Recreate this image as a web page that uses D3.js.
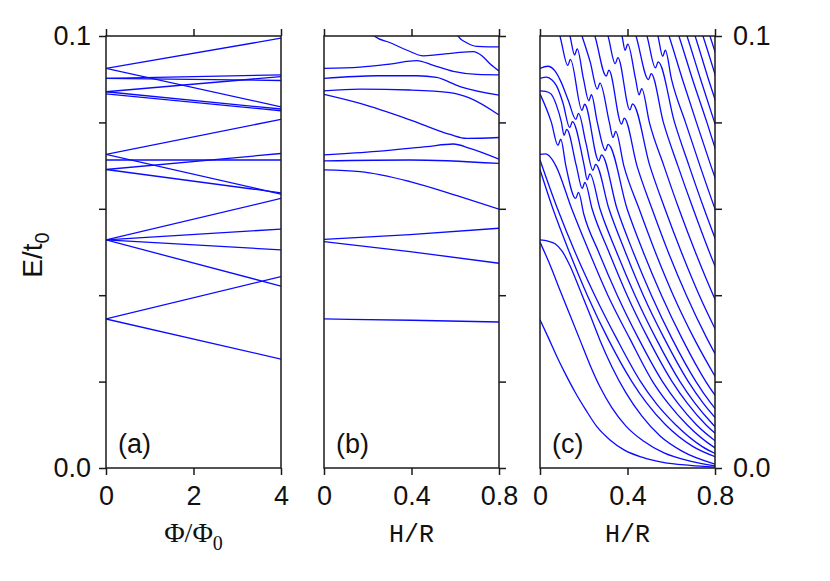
<!DOCTYPE html>
<html>
<head>
<meta charset="utf-8">
<script src="https://cdn.jsdelivr.net/npm/d3@7"></script>
<style>
  body { margin: 0; background: #fff; }
  svg { display: block; }
</style>
</head>
<body>
<svg id="chart" width="830" height="581"></svg>
<script>
// ---- data ----
const eDomain = [0, 0.1]
const fluxDomain = [0, 4]
const hDomain = [0, 0.8]
const eTicks = [0, 0.02, 0.04, 0.06, 0.08, 0.1]
const fluxTicks = [0, 2, 4]
const hTicks = [0, 0.4, 0.8]

// (a) straight levels: E/t0 at Phi/Phi0 = 0 and at Phi/Phi0 = 4
const linesA = [
  [0.0925, 0.0995], [0.0925, 0.0836],
  [0.0902, 0.0910], [0.0902, 0.0897],
  [0.0871, 0.0906], [0.0871, 0.0831],
  [0.0866, 0.0827],
  [0.0726, 0.0807], [0.0726, 0.0634],
  [0.0713, 0.0713],
  [0.0691, 0.0728], [0.0691, 0.0637],
  [0.0528, 0.0624], [0.0528, 0.0553], [0.0528, 0.0505], [0.0528, 0.0421],
  [0.0345, 0.0443], [0.0345, 0.0252]
]

// (b) levels against H/R, [H/R, E/t0]
const curvesB = [
  [[0.21,0.1015],[0.233,0.0999],[0.3,0.0985],[0.38,0.0967],[0.454,0.0954],[0.52,0.0957],[0.6,0.0961],[0.683,0.0964],[0.72,0.0955],[0.76,0.0935],[0.8,0.0919]],
  [[0.6,0.1012],[0.614,0.0999],[0.65,0.0985],[0.698,0.0976],[0.75,0.0975],[0.8,0.0975]],
  [[0,0.0925],[0.165,0.0928],[0.3,0.0935],[0.424,0.0943],[0.5,0.0932],[0.591,0.0918],[0.7,0.0911],[0.8,0.091]],
  [[0,0.0902],[0.242,0.0908],[0.424,0.0908],[0.515,0.0904],[0.622,0.0883],[0.8,0.0863]],
  [[0,0.0873],[0.165,0.0877],[0.393,0.0875],[0.576,0.0869],[0.667,0.0856],[0.8,0.0817]],
  [[0,0.0865],[0.165,0.0844],[0.393,0.0806],[0.576,0.0772],[0.652,0.0763],[0.8,0.0765]],
  [[0,0.0725],[0.242,0.0733],[0.469,0.0744],[0.591,0.075],[0.667,0.074],[0.8,0.0715]],
  [[0,0.0711],[0.393,0.0713],[0.8,0.0705]],
  [[0,0.069],[0.165,0.0686],[0.393,0.0663],[0.622,0.0628],[0.8,0.0599]],
  [[0,0.0529],[0.393,0.054],[0.8,0.0555]],
  [[0,0.0524],[0.393,0.0501],[0.8,0.0474]],
  [[0,0.0345],[0.4,0.0342],[0.8,0.0338]]
]

// (c) levels against H/R, [H/R, E/t0]
const curvesC = [
  [[0,0.0343],[0.037,0.0303],[0.078,0.0257],[0.119,0.0215],[0.16,0.0176],[0.21,0.0134],[0.261,0.0095],[0.32,0.0065],[0.384,0.0042],[0.466,0.0025],[0.562,0.0013],[0.686,0.0006],[0.8,0.0002]],
  [[0,0.0523],[0.046,0.047],[0.091,0.0412],[0.137,0.0354],[0.183,0.0296],[0.229,0.0238],[0.274,0.0188],[0.329,0.0139],[0.393,0.0097],[0.471,0.0063],[0.567,0.0035],[0.686,0.0016],[0.8,0.0005]],
  [[0,0.0528],[0.037,0.0525],[0.069,0.0519],[0.101,0.0502],[0.137,0.0468],[0.183,0.0412],[0.229,0.0354],[0.274,0.0296],[0.329,0.0234],[0.393,0.0174],[0.466,0.012],[0.549,0.0074],[0.649,0.0039],[0.8,0.0009]],
  [[0,0.0691],[0.059,0.06],[0.134,0.05],[0.216,0.04],[0.31,0.03],[0.42,0.02],[0.488,0.015],[0.574,0.01],[0.698,0.005],[0.807,0.0025]],
  [[0,0.0713],[0.08,0.06],[0.16,0.05],[0.25,0.04],[0.35,0.03],[0.46,0.02],[0.53,0.015],[0.62,0.01],[0.74,0.005],[0.84,0.0025]],
  [[0,0.0726],[0.025,0.0727],[0.05,0.0718],[0.072,0.07],[0.145,0.06],[0.225,0.05],[0.31,0.04],[0.41,0.03],[0.515,0.02],[0.585,0.015],[0.672,0.01],[0.79,0.005],[0.89,0.0025]],
  [[0,0.0866],[0.052,0.08],[0.082,0.0747],[0.095,0.0761],[0.118,0.07],[0.163,0.0624],[0.176,0.0638],[0.2,0.0588],[0.268,0.05],[0.353,0.04],[0.45,0.03],[0.56,0.02],[0.63,0.015],[0.715,0.01],[0.835,0.005]],
  [[0,0.0873],[0.025,0.0872],[0.05,0.0866],[0.075,0.084],[0.098,0.08],[0.11,0.077],[0.122,0.0784],[0.166,0.07],[0.193,0.0647],[0.205,0.0661],[0.238,0.06],[0.315,0.05],[0.398,0.04],[0.494,0.03],[0.604,0.02],[0.673,0.015],[0.758,0.01],[0.88,0.005]],
  [[0,0.0902],[0.03,0.0905],[0.055,0.0898],[0.075,0.0885],[0.105,0.0845],[0.136,0.0788],[0.148,0.0802],[0.202,0.07],[0.216,0.0667],[0.228,0.0681],[0.274,0.06],[0.35,0.05],[0.434,0.04],[0.53,0.03],[0.64,0.02],[0.708,0.015],[0.792,0.01],[0.9,0.005]],
  [[0,0.0925],[0.035,0.093],[0.07,0.0918],[0.095,0.0895],[0.13,0.085],[0.164,0.0807],[0.176,0.0821],[0.21,0.0752],[0.242,0.0689],[0.254,0.0703],[0.315,0.06],[0.39,0.05],[0.472,0.04],[0.568,0.03],[0.678,0.02],[0.746,0.015],[0.83,0.01]],
  [[0.078,0.102],[0.091,0.1],[0.127,0.0932],[0.139,0.0946],[0.192,0.0828],[0.204,0.0842],[0.269,0.0711],[0.281,0.0725],[0.352,0.06],[0.426,0.05],[0.509,0.04],[0.603,0.03],[0.713,0.02],[0.781,0.015],[0.867,0.01]],
  [[0.124,0.102],[0.137,0.1],[0.158,0.0956],[0.17,0.097],[0.199,0.09],[0.223,0.085],[0.235,0.0864],[0.262,0.08],[0.299,0.0735],[0.311,0.0749],[0.398,0.06],[0.472,0.05],[0.555,0.04],[0.649,0.03],[0.758,0.02],[0.826,0.015]],
  [[0.179,0.102],[0.192,0.1],[0.23,0.0939],[0.262,0.0877],[0.274,0.0891],[0.317,0.08],[0.334,0.0765],[0.346,0.0779],[0.383,0.07],[0.453,0.06],[0.527,0.05],[0.609,0.04],[0.704,0.03],[0.814,0.02]],
  [[0.238,0.102],[0.251,0.1],[0.303,0.0907],[0.315,0.0921],[0.373,0.0796],[0.385,0.081],[0.443,0.07],[0.512,0.06],[0.586,0.05],[0.669,0.04],[0.763,0.03],[0.873,0.02]],
  [[0.298,0.102],[0.311,0.1],[0.344,0.0936],[0.356,0.095],[0.411,0.0829],[0.423,0.0843],[0.502,0.07],[0.571,0.06],[0.646,0.05],[0.728,0.04],[0.822,0.03]],
  [[0.362,0.102],[0.375,0.1],[0.389,0.0967],[0.401,0.0981],[0.437,0.09],[0.453,0.0864],[0.465,0.0878],[0.5,0.08],[0.566,0.07],[0.635,0.06],[0.71,0.05],[0.792,0.04],[0.886,0.03]],
  [[0.426,0.102],[0.439,0.1],[0.496,0.0899],[0.508,0.0913],[0.564,0.08],[0.63,0.07],[0.7,0.06],[0.774,0.05],[0.856,0.04]],
  [[0.476,0.102],[0.489,0.1],[0.528,0.0926],[0.54,0.094],[0.615,0.08],[0.681,0.07],[0.75,0.06],[0.824,0.05]],
  [[0.526,0.102],[0.539,0.1],[0.561,0.0953],[0.573,0.0967],[0.601,0.09],[0.665,0.08],[0.731,0.07],[0.8,0.06],[0.875,0.05]],
  [[0.577,0.102],[0.59,0.1],[0.651,0.09],[0.715,0.08],[0.781,0.07],[0.851,0.06]],
  [[0.622,0.102],[0.635,0.1],[0.697,0.09],[0.763,0.08],[0.826,0.07]],
  [[0.659,0.102],[0.672,0.1],[0.734,0.09],[0.798,0.08],[0.863,0.07]],
  [[0.696,0.102],[0.709,0.1],[0.77,0.09],[0.834,0.08]],
  [[0.732,0.102],[0.745,0.1],[0.807,0.09]],
  [[0.764,0.102],[0.777,0.1],[0.839,0.09]]
]

// ---- drawing ----
const svg = d3.select("#chart")
const yTop = 36, yBottom = 468
const ink = "#1a1a1a"
const sans = "'Liberation Sans', Arial, Helvetica, sans-serif"
const blue = "#0a0aff"

const y = d3.scaleLinear().domain(eDomain).range([yBottom, yTop])

const defs = svg.append("defs")

function makePanel(id, x0, x1, domain) {
  const x = d3.scaleLinear().domain(domain).range([x0, x1])
  defs.append("clipPath").attr("id", id)
    .append("rect").attr("x", x0).attr("y", yTop).attr("width", x1 - x0).attr("height", yBottom - yTop)
  const g = svg.append("g")
  const plot = g.append("g").attr("clip-path", `url(#${id})`)
  return { x, g, plot, x0, x1 }
}

function styleAxis(sel) {
  sel.attr("color", ink).attr("font-family", sans).attr("font-size", 27)
  sel.select(".domain").remove()
  sel.selectAll(".tick line").attr("stroke-width", 1.5)
  sel.selectAll(".tick text").attr("fill", "#111")
}

const yFmt = d => d === 0 ? "0.0" : (Math.abs(d - 0.1) < 1e-9 ? "0.1" : "")

function axes(p, xTicks, xFmt, ySide, yLabels) {
  p.g.append("g").attr("transform", `translate(0,${yBottom})`)
    .call(d3.axisBottom(p.x).tickValues(xTicks).tickFormat(xFmt).tickSize(7).tickPadding(11))
    .call(styleAxis)
  p.g.append("g").attr("transform", `translate(0,${yTop})`)
    .call(d3.axisTop(p.x).tickValues(xTicks).tickFormat("").tickSize(7))
    .call(styleAxis)
  const fmt = yLabels ? yFmt : ""
  if (ySide === "left") {
    p.g.append("g").attr("transform", `translate(${p.x0},0)`)
      .call(d3.axisLeft(y).tickValues(eTicks).tickFormat(fmt).tickSize(7).tickPadding(8))
      .call(styleAxis)
  } else {
    p.g.append("g").attr("transform", `translate(${p.x1},0)`)
      .call(d3.axisRight(y).tickValues(eTicks).tickFormat(fmt).tickSize(7).tickPadding(11))
      .call(styleAxis)
  }
  p.g.append("rect")
    .attr("x", p.x0).attr("y", yTop)
    .attr("width", p.x1 - p.x0).attr("height", yBottom - yTop)
    .attr("fill", "none").attr("stroke", ink).attr("stroke-width", 1.5)
}

// panel (a)
const pa = makePanel("clipA", 106, 281, fluxDomain)
pa.plot.selectAll("line").data(linesA).enter().append("line")
  .attr("x1", pa.x(fluxDomain[0])).attr("x2", pa.x(fluxDomain[1]))
  .attr("y1", d => y(d[0])).attr("y2", d => y(d[1]))
  .attr("stroke", blue).attr("stroke-width", 1.3)
axes(pa, fluxTicks, d3.format("d"), "left", true)

// panels (b), (c)
const hFmt = d => d === 0 ? "0" : d3.format(".1f")(d)

const pb = makePanel("clipB", 324, 499, hDomain)
const lineB = d3.line().x(d => pb.x(d[0])).y(d => y(d[1])).curve(d3.curveMonotoneX)
pb.plot.selectAll("path").data(curvesB).enter().append("path")
  .attr("d", lineB).attr("fill", "none").attr("stroke", blue).attr("stroke-width", 1.3)
axes(pb, hTicks, hFmt, "right", false)

const pc = makePanel("clipC", 540, 715, hDomain)
const lineC = d3.line().x(d => pc.x(d[0])).y(d => y(d[1])).curve(d3.curveMonotoneX)
pc.plot.selectAll("path").data(curvesC).enter().append("path")
  .attr("d", lineC).attr("fill", "none").attr("stroke", blue).attr("stroke-width", 1.3)
axes(pc, hTicks, hFmt, "right", true)

// panel tags
const tags = [["(a)", pa], ["(b)", pb], ["(c)", pc]]
tags.forEach(([t, p]) => {
  svg.append("text").attr("x", p.x0 + 12).attr("y", 453)
    .attr("font-family", sans).attr("font-size", 27).attr("fill", "#111").text(t)
})

// axis titles
const tPhi = svg.append("text").attr("x", (pa.x0 + pa.x1) / 2).attr("y", 542)
  .attr("text-anchor", "middle").attr("font-family", "'Liberation Serif', 'Times New Roman', serif")
  .attr("font-size", 28).attr("fill", "#111")
tPhi.append("tspan").text("Φ/Φ")
tPhi.append("tspan").attr("font-size", 20).attr("dy", 8).text("0")

;[pb, pc].forEach(p => {
  svg.append("text").attr("x", (p.x0 + p.x1) / 2).attr("y", 542)
    .attr("text-anchor", "middle").attr("font-family", "'Liberation Mono', 'Courier New', monospace")
    .attr("font-size", 25).attr("fill", "#111").text("H/R")
})

const tE = svg.append("text").attr("transform", "translate(42,255) rotate(-90)")
  .attr("text-anchor", "middle").attr("font-family", sans).attr("font-size", 28).attr("fill", "#111")
tE.append("tspan").text("E/t")
tE.append("tspan").attr("font-size", 20).attr("dy", 7).text("0")
</script>
</body>
</html>
